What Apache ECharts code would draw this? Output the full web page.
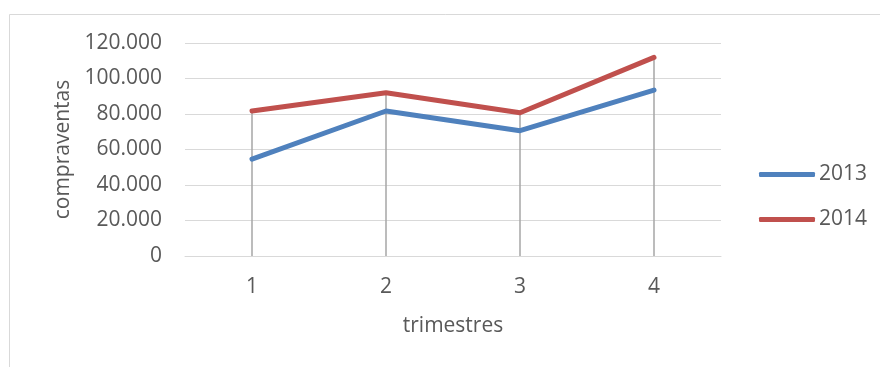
<!DOCTYPE html>
<html>
<head>
<meta charset="utf-8">
<script src="https://cdn.jsdelivr.net/npm/echarts@6/dist/echarts.min.js"></script>
<style>
  html, body { margin: 0; padding: 0; background: #fff; }
  #chart { width: 880px; height: 367px; }
</style>
</head>
<body>
<div id="chart"></div>
<script>
// Quarterly property sales (compraventas), 2013 vs 2014
const trimestres = ['1', '2', '3', '4'];
const ventas2013 = [54600, 81700, 70600, 93500];
const ventas2014 = [81700, 92000, 80700, 111900];
const yTicks = [0, 20000, 40000, 60000, 80000, 100000, 120000];

const FONT = '"Open Sans", sans-serif';
const TEXT = '#595959';
const GRID = '#d9d9d9';
const FS = 21;

// Spanish thousands separator: 120000 -> 120.000
function fmtMiles(v) {
  return String(Math.round(v)).replace(/\B(?=(\d{3})+(?!\d))/g, '.');
}

// Highest value per quarter, used for the vertical drop lines
const topPorTrimestre = trimestres.map((_, i) => Math.max(ventas2013[i], ventas2014[i]));

const chart = echarts.init(document.getElementById('chart'), null, { renderer: 'canvas' });

chart.setOption({
  animation: false,
  backgroundColor: '#ffffff',
  textStyle: { fontFamily: FONT },
  graphic: [{
    type: 'rect',
    shape: { x: 9.5, y: 14.5, width: 900, height: 400 },
    style: { fill: 'none', stroke: GRID, lineWidth: 1 },
    silent: true,
    z: -10
  }],
  grid: { left: 185, right: 159, top: 43, bottom: 111 },
  legend: {
    orient: 'vertical',
    left: 754,
    top: 159,
    itemWidth: 56,
    itemHeight: 5,
    itemGap: 24,
    icon: 'roundRect',
    textStyle: { color: TEXT, fontSize: FS, fontFamily: FONT, padding: [0, 0, 0, -1] },
    data: ['2013', '2014']
  },
  xAxis: {
    type: 'category',
    data: trimestres,
    boundaryGap: true,
    name: 'trimestres',
    nameLocation: 'middle',
    nameGap: 60,
    nameTextStyle: { color: TEXT, fontSize: FS, fontFamily: FONT },
    axisLine: { show: true, lineStyle: { color: GRID, width: 1 } },
    axisTick: { show: false },
    axisLabel: { color: TEXT, fontSize: FS, fontFamily: FONT, margin: 21 },
    splitLine: { show: false }
  },
  yAxis: {
    type: 'value',
    min: yTicks[0],
    max: yTicks[yTicks.length - 1],
    interval: yTicks[1] - yTicks[0],
    name: 'compraventas',
    nameLocation: 'middle',
    nameGap: 109,
    nameTextStyle: { color: TEXT, fontSize: FS, fontFamily: FONT },
    axisLine: { show: false },
    axisTick: { show: false },
    axisLabel: { color: TEXT, fontSize: FS, fontFamily: FONT, margin: 23, formatter: fmtMiles },
    splitLine: { show: true, lineStyle: { color: GRID, width: 1 } }
  },
  series: [
    {
      // drop lines from the highest point of each quarter down to the axis
      type: 'custom',
      silent: true,
      z: 1,
      data: topPorTrimestre.map((v, i) => [i, v]),
      renderItem: function (params, api) {
        const top = api.coord([api.value(0), api.value(1)]);
        const bottom = api.coord([api.value(0), 0]);
        return {
          type: 'line',
          shape: { x1: top[0], y1: top[1], x2: bottom[0], y2: bottom[1] },
          style: { stroke: '#a6a6a6', lineWidth: 1.5 }
        };
      }
    },
    {
      name: '2013',
      type: 'line',
      data: ventas2013,
      z: 3,
      symbol: 'none',
      color: '#4f81bd',
      lineStyle: { color: '#4f81bd', width: 5, cap: 'round', join: 'round' }
    },
    {
      name: '2014',
      type: 'line',
      data: ventas2014,
      z: 3,
      symbol: 'none',
      color: '#c0504d',
      lineStyle: { color: '#c0504d', width: 5, cap: 'round', join: 'round' }
    }
  ]
});
</script>
</body>
</html>
